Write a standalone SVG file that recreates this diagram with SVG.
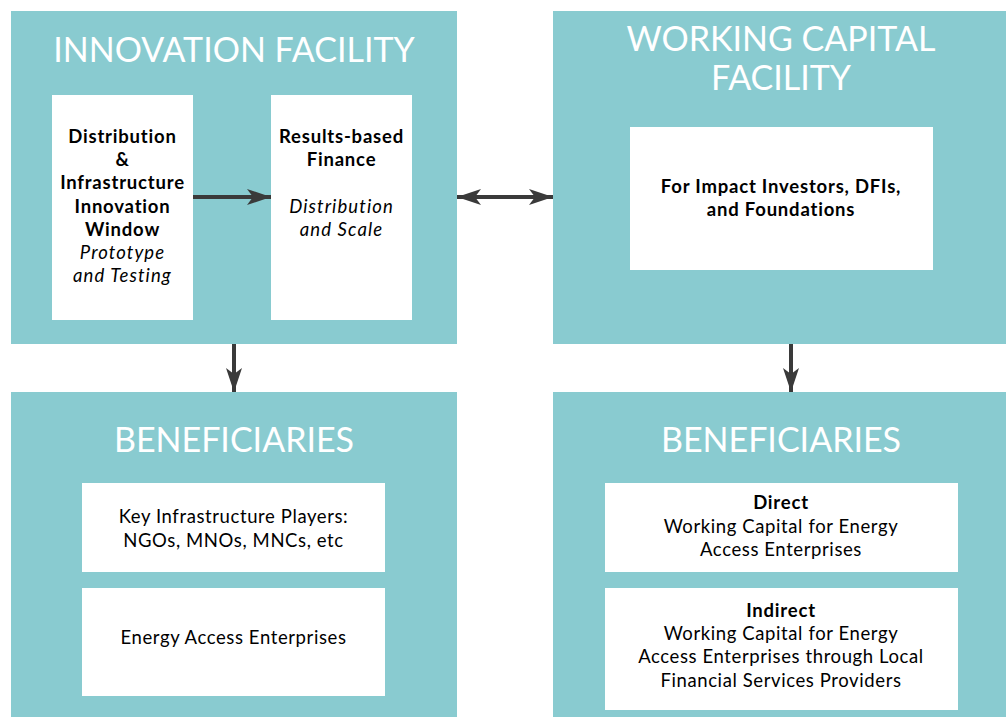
<svg xmlns="http://www.w3.org/2000/svg" width="1006" height="717" viewBox="0 0 1006 717">
<style>
.panel{fill:#89CBD0}
.box{fill:#FFFFFF}
.title{font-family:Lato,"Open Sans",sans-serif;font-size:34px;fill:#FFFFFF;text-anchor:middle}
.t{font-family:Lato,"Open Sans",sans-serif;font-size:18.5px;letter-spacing:0.6px;fill:#000000;text-anchor:middle}
.b{font-weight:bold;letter-spacing:0.8px}
.i{font-style:italic;letter-spacing:1.1px}
.conn{stroke:#3A3A3A;stroke-width:4;fill:none}
</style>
<defs>
<marker id="ah" markerUnits="userSpaceOnUse" markerWidth="26" markerHeight="18" refX="24" refY="8" orient="auto-start-reverse" viewBox="0 0 26 18">
<path d="M0,0 L24,8 L0,16 L6,8 Z" fill="#3A3A3A"/>
</marker>
</defs>
<rect x="0" y="0" width="1006" height="717" fill="#FFFFFF"/>
<g id="innovation-facility">
<rect class="panel" x="11" y="11" width="446" height="333"/>
<text class="title" x="234" y="62">INNOVATION FACILITY</text>
</g>
<g id="diiw">
<rect class="box" x="52" y="95" width="141" height="225"/>
<text class="t b" x="122.5" y="143">Distribution</text>
<text class="t b" x="122.5" y="166">&amp;</text>
<text class="t b" x="122.5" y="189">Infrastructure</text>
<text class="t b" x="122.5" y="213">Innovation</text>
<text class="t b" x="122.5" y="236">Window</text>
<text class="t i" x="122.5" y="259">Prototype</text>
<text class="t i" x="122.5" y="282">and Testing</text>
</g>
<g id="rbf">
<rect class="box" x="271" y="95" width="141" height="225"/>
<text class="t b" x="341.5" y="143">Results-based</text>
<text class="t b" x="341.5" y="166">Finance</text>
<text class="t i" x="341.5" y="213">Distribution</text>
<text class="t i" x="341.5" y="236">and Scale</text>
</g>
<g id="working-capital-facility">
<rect class="panel" x="553" y="11" width="453" height="333"/>
<text class="title" x="781" y="51">WORKING CAPITAL</text>
<text class="title" x="781" y="90">FACILITY</text>
</g>
<g id="investors">
<rect class="box" x="630" y="127" width="303" height="143"/>
<text class="t b" x="781" y="193">For Impact Investors, DFIs,</text>
<text class="t b" x="781" y="216">and Foundations</text>
</g>
<g id="beneficiaries-left">
<rect class="panel" x="11" y="392" width="446" height="325"/>
<text class="title" x="234" y="452">BENEFICIARIES</text>
</g>
<g id="key-infra">
<rect class="box" x="82" y="483" width="303" height="89"/>
<text class="t" x="233.5" y="523">Key Infrastructure Players:</text>
<text class="t" x="233.5" y="547">NGOs, MNOs, MNCs, etc</text>
</g>
<g id="eae">
<rect class="box" x="82" y="588" width="303" height="108"/>
<text class="t" x="233.5" y="644">Energy Access Enterprises</text>
</g>
<g id="beneficiaries-right">
<rect class="panel" x="553" y="392" width="453" height="325"/>
<text class="title" x="781" y="452">BENEFICIARIES</text>
</g>
<g id="direct">
<rect class="box" x="605" y="483" width="353" height="89"/>
<text class="t b" x="781" y="509">Direct</text>
<text class="t" x="781" y="533">Working Capital for Energy</text>
<text class="t" x="781" y="556">Access Enterprises</text>
</g>
<g id="indirect">
<rect class="box" x="605" y="588" width="353" height="122"/>
<text class="t b" x="781" y="617">Indirect</text>
<text class="t" x="781" y="640">Working Capital for Energy</text>
<text class="t" x="781" y="663">Access Enterprises through Local</text>
<text class="t" x="781" y="687">Financial Services Providers</text>
</g>
<g id="connectors">
<line class="conn" x1="193" y1="197" x2="271" y2="197" marker-end="url(#ah)"/>
<line class="conn" x1="457" y1="197" x2="553" y2="197" marker-start="url(#ah)" marker-end="url(#ah)"/>
<line class="conn" x1="234" y1="344" x2="234" y2="392" marker-end="url(#ah)"/>
<line class="conn" x1="791" y1="344" x2="791" y2="392" marker-end="url(#ah)"/>
</g>
</svg>
